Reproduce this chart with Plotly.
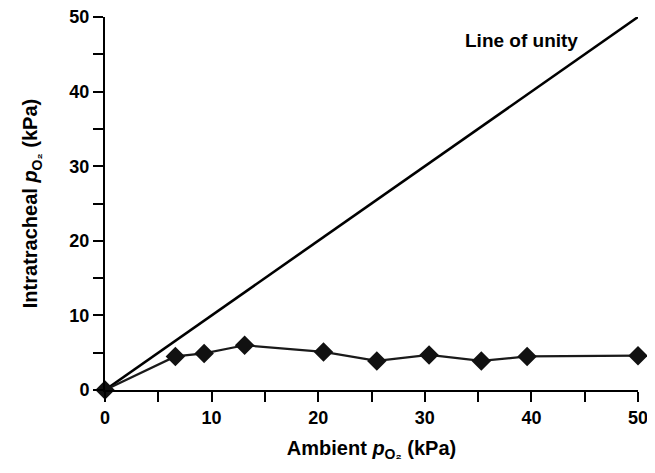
import plotly.graph_objects as go

# Data
ambient_po2 = [0, 6.6, 9.3, 13.1, 20.5, 25.5, 30.4, 35.3, 39.6, 50.0]
intratracheal_po2 = [0, 4.5, 4.9, 6.0, 5.1, 3.9, 4.7, 3.9, 4.5, 4.6]
unity_x = [0, 50]
unity_y = [0, 50]
tick_vals = [0, 5, 10, 15, 20, 25, 30, 35, 40, 45, 50]
tick_text = ["0", "", "10", "", "20", "", "30", "", "40", "", "50"]

font_family = "Liberation Sans, Arial, sans-serif"

fig = go.Figure()
fig.add_trace(go.Scatter(
    x=unity_x, y=unity_y, mode="lines",
    line=dict(color="#000000", width=2.6),
    cliponaxis=False, showlegend=False))
fig.add_trace(go.Scatter(
    x=ambient_po2, y=intratracheal_po2, mode="lines+markers",
    line=dict(color="#1a1a1a", width=2.2),
    marker=dict(symbol="diamond", size=15, color="#111111"),
    cliponaxis=False, showlegend=False))

fig.add_annotation(x=39.1, y=46.9, text="<b>Line of unity</b>", showarrow=False,
                   font=dict(family=font_family, size=19, color="#000000"))

axis_common = dict(
    showgrid=False, zeroline=False, showline=True, linecolor="#000000", linewidth=2,
    ticks="outside", ticklen=10, tickwidth=2, tickcolor="#000000",
    tickmode="array", tickvals=tick_vals, ticktext=tick_text,
    ticklabeloverflow="allow", automargin=False,
    tickfont=dict(family=font_family, size=18, color="#000000", weight="bold"),
)

fig.update_layout(
    width=647, height=465,
    margin=dict(l=97, r=17, t=9, b=83),
    plot_bgcolor="white", paper_bgcolor="white",
    xaxis=dict(range=[0, 50], **axis_common,
               title=dict(text="<b>Ambient <i>p</i><sub>O₂</sub> (kPa)</b>",
                          font=dict(family=font_family, size=20, color="#000000"),
                          standoff=14)),
    yaxis=dict(range=[0, 50], **axis_common,
               title=dict(text="<b>Intratracheal <i>p</i><sub>O₂</sub> (kPa)</b>",
                          font=dict(family=font_family, size=20, color="#000000"),
                          standoff=26)),
)

fig.write_html("out.html")
